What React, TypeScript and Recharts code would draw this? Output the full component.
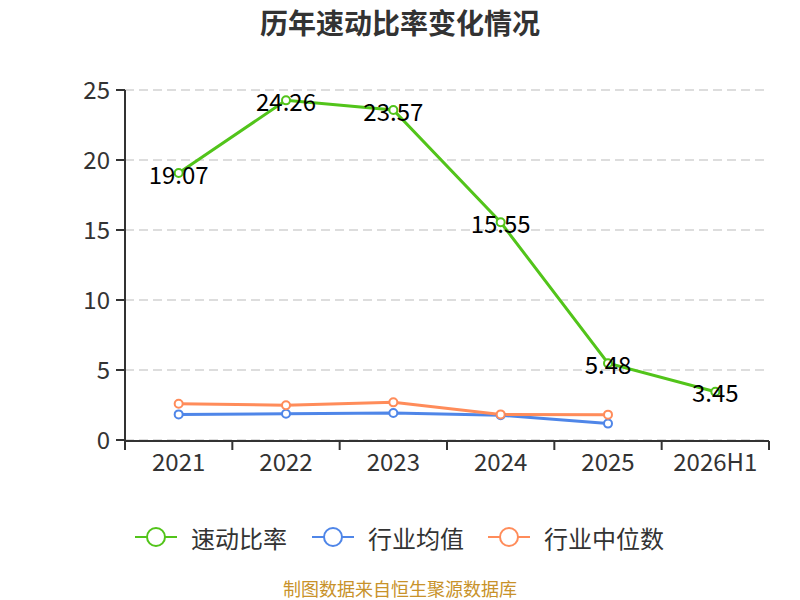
import { CartesianGrid, Line, LineChart, ReferenceLine, XAxis, YAxis } from "recharts";

const years = ["2021", "2022", "2023", "2024", "2025", "2026H1"];
const quickRatio = [19.07, 24.26, 23.57, 15.55, 5.48, 3.45];
const industryAvg = [1.83, 1.88, 1.93, 1.77, 1.17, null];
const industryMedian = [2.59, 2.48, 2.69, 1.83, 1.81, null];
const yTicks = [0, 5, 10, 15, 20, 25];
// category boundaries (between bands) for the x-axis tick marks
const boundaryTicks = [-0.5, 0.5, 1.5, 2.5, 3.5, 4.5, 5.5];

const series = [
  { key: "quick", name: "速动比率", color: "#52c41a" },
  { key: "avg", name: "行业均值", color: "#4f86e8" },
  { key: "median", name: "行业中位数", color: "#ff8c5a" },
];

const data = years.map((year, i) => ({
  year,
  idx: i,
  quick: quickRatio[i],
  avg: industryAvg[i],
  median: industryMedian[i],
}));

const font = '"Noto Sans CJK SC", "Noto Sans", sans-serif';

function ValueLabel(props: any) {
  const { x, y, value } = props;
  if (value == null) return null;
  return (
    <text x={x} y={y} textAnchor="middle" dominantBaseline="central" fontSize={24} fill="#000" fontFamily={font}>
      {Number(value).toFixed(2)}
    </text>
  );
}

function Legend() {
  const lefts = [135, 312, 488];
  return (
    <>
      {series.map((s, i) => (
        <div
          key={s.key}
          style={{ position: "absolute", left: lefts[i], top: 521, display: "flex", alignItems: "center", height: 32 }}
        >
          <svg width={42} height={24}>
            <line x1={0} y1={12} x2={42} y2={12} stroke={s.color} strokeWidth={2} />
            <circle cx={21} cy={12} r={9} fill="#fff" stroke={s.color} strokeWidth={2} />
          </svg>
          <span style={{ marginLeft: 14, fontSize: 24, color: "#333", fontFamily: font }}>{s.name}</span>
        </div>
      ))}
    </>
  );
}

export default function App() {
  return (
    <div style={{ position: "relative", width: 800, height: 600, background: "#fff", fontFamily: font }}>
      <style>{"body{margin:0}"}</style>
      <div
        style={{ position: "absolute", top: 2, width: 800, textAlign: "center", fontSize: 28, fontWeight: "bold", color: "#333" }}
      >
        历年速动比率变化情况
      </div>
      <LineChart width={800} height={600} data={data} margin={{ top: 90, right: 31, bottom: 0, left: 0 }}>
        <CartesianGrid yAxisId="left" horizontal vertical={false} stroke="#bbb" strokeDasharray="9 5" />
        <XAxis
          dataKey="year"
          scale="band"
          axisLine={false}
          tickLine={false}
          height={1}
          tickSize={0}
          tickMargin={14}
          tick={{ fill: "#333", fontSize: 24, fontFamily: font }}
        />
        <XAxis
          xAxisId="b"
          dataKey="idx"
          type="number"
          domain={[-0.5, 5.5]}
          ticks={boundaryTicks}
          interval={0}
          tickFormatter={() => ""}
          height={159}
          tickSize={9}
          stroke="#333"
          strokeWidth={2}
          allowDataOverflow
        />
        <YAxis
          yAxisId="left"
          domain={[0, 25]}
          ticks={yTicks}
          width={125}
          tickSize={9}
          tickMargin={6}
          stroke="#333"
          strokeWidth={2}
          tick={{ fill: "#333", fontSize: 24, fontFamily: font }}
        />
        <ReferenceLine xAxisId="b" yAxisId="left" x={-0.5} stroke="#333" strokeWidth={2} />
        <Line
          yAxisId="left"
          dataKey="avg"
          stroke={series[1].color}
          strokeWidth={3}
          dot={{ r: 4, fill: "#fff", stroke: series[1].color, strokeWidth: 2 }}
          isAnimationActive={false}
        />
        <Line
          yAxisId="left"
          dataKey="median"
          stroke={series[2].color}
          strokeWidth={3}
          dot={{ r: 4, fill: "#fff", stroke: series[2].color, strokeWidth: 2 }}
          isAnimationActive={false}
        />
        <Line
          yAxisId="left"
          dataKey="quick"
          stroke={series[0].color}
          strokeWidth={3}
          dot={{ r: 4, fill: "#fff", stroke: series[0].color, strokeWidth: 2 }}
          label={<ValueLabel />}
          isAnimationActive={false}
        />
      </LineChart>
      <Legend />
      <div
        style={{ position: "absolute", top: 578, width: 800, textAlign: "center", fontSize: 18, lineHeight: "20px", color: "#c8922a" }}
      >
        制图数据来自恒生聚源数据库
      </div>
    </div>
  );
}
